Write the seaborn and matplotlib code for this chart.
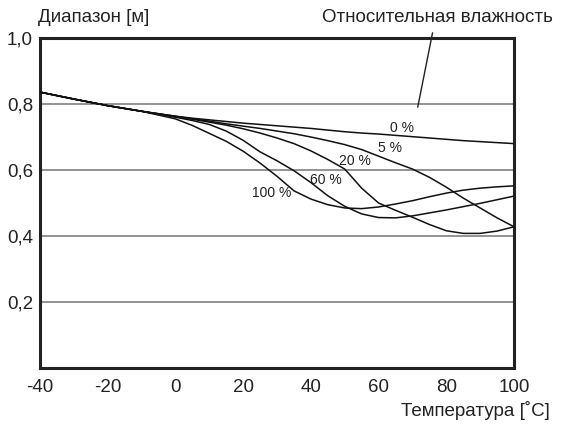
import numpy as np
import pandas as pd
import seaborn as sns
import matplotlib.pyplot as plt

# temperature points (deg C) and range (m)
temp_common = [-40, -30, -20, -10]
range_common = [0.836, 0.815, 0.795, 0.778]

temp = [0, 5, 10, 15, 20, 25, 30, 35, 40, 45, 50, 55, 60, 65, 70, 75, 80, 85, 90, 95, 100]
rh_0 = [0.763, 0.757, 0.752, 0.747, 0.742, 0.738, 0.734, 0.730, 0.726, 0.721, 0.716,
        0.712, 0.709, 0.705, 0.701, 0.697, 0.693, 0.689, 0.686, 0.683, 0.680]
rh_5 = [0.763, 0.755, 0.748, 0.740, 0.733, 0.726, 0.718, 0.710, 0.700, 0.689, 0.677,
        0.662, 0.642, 0.622, 0.603, 0.578, 0.548, 0.515, 0.485, 0.455, 0.428]
rh_20 = [0.762, 0.754, 0.745, 0.736, 0.725, 0.712, 0.697, 0.680, 0.658, 0.632, 0.603,
         0.545, 0.500, 0.478, 0.457, 0.435, 0.416, 0.408, 0.408, 0.415, 0.428]
rh_60 = [0.760, 0.750, 0.738, 0.718, 0.690, 0.655, 0.628, 0.598, 0.562, 0.522, 0.490,
         0.467, 0.456, 0.455, 0.461, 0.470, 0.479, 0.489, 0.499, 0.510, 0.521]
rh_100 = [0.755, 0.735, 0.711, 0.687, 0.657, 0.621, 0.581, 0.537, 0.512, 0.495, 0.485,
          0.483, 0.488, 0.497, 0.507, 0.519, 0.530, 0.539, 0.545, 0.549, 0.552]

humidity = ["0 %", "5 %", "20 %", "60 %", "100 %"]
label_x = [67, 63.5, 53, 44.5, 28.5]
label_y = [0.727, 0.667, 0.627, 0.570, 0.530]

y_ticks = [0.2, 0.4, 0.6, 0.8, 1.0]
y_ticklabels = ["0,2", "0,4", "0,6", "0,8", "1,0"]
x_ticks = [-40, -20, 0, 20, 40, 60, 80, 100]

rows = []
for name, vals in zip(humidity, [rh_0, rh_5, rh_20, rh_60, rh_100]):
    xs = temp_common + temp
    ys = range_common + vals
    for x, y in zip(xs, ys):
        rows.append({"temp": x, "range": y, "rh": name})
df = pd.DataFrame(rows)

sns.set_style("white")
plt.rcParams["font.family"] = ["Liberation Sans", "DejaVu Sans"]

fig = plt.figure(figsize=(5.62, 4.25), dpi=100)
ax = fig.add_axes([0.0712, 0.134, 0.8434, 0.7766])

for yv in [0.2, 0.4, 0.6, 0.8]:
    ax.axhline(yv, color="#808080", lw=1.2, zorder=1)

sns.lineplot(data=df, x="temp", y="range", hue="rh", palette=["#111111"] * 5,
             lw=1.1, legend=False, ax=ax, zorder=3)

for t, lx, ly in zip(humidity, label_x, label_y):
    ax.text(lx, ly, t, fontsize=10, ha="center", va="center", color="#222222")

ax.set_xlim(-40, 100)
ax.set_ylim(0, 1.0)
ax.set_xticks(x_ticks)
ax.set_xticklabels([str(v) for v in x_ticks], fontsize=13.5)
ax.set_yticks(y_ticks)
ax.set_yticklabels(y_ticklabels, fontsize=13.5)
ax.tick_params(axis="x", direction="inout", length=10, width=1, pad=3, colors="#222222")
ax.tick_params(axis="y", length=0, pad=5, colors="#222222")
ax.set_xlabel("")
ax.set_ylabel("")
for sp in ax.spines.values():
    sp.set_visible(True)
    sp.set_linewidth(2.2)
    sp.set_color("#222222")

fig.text(38 / 562, 1 - 18 / 425, "Диапазон [м]", fontsize=13.5, ha="left", va="center", color="#222222")
fig.text(553 / 562, 1 - 18 / 425, "Относительная влажность", fontsize=13.5, ha="right", va="center", color="#222222")
fig.text(550 / 562, 1 - 410 / 425, "Температура [˚C]", fontsize=13.5, ha="right", va="center", color="#222222")

# leader line from the humidity caption
ax.annotate("", xy=(71.4, 0.782), xytext=(76.1, 1.024), xycoords="data",
            arrowprops=dict(arrowstyle="-", color="#222222", lw=1), annotation_clip=False)

fig.savefig("out.png", dpi=100)
